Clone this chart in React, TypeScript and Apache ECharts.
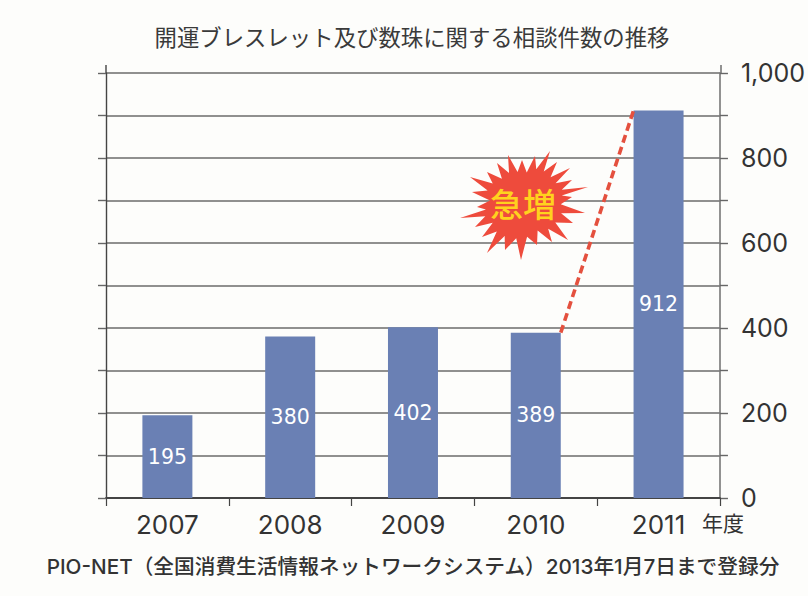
import React, { useEffect, useRef } from "react";
import * as echarts from "echarts";

const titleText = "開運ブレスレット及び数珠に関する相談件数の推移";
const footerText = "PIO-NET（全国消費生活情報ネットワークシステム）2013年1月7日まで登録分";
const unitText = "年度";
const burstText = "急増";
const categories = ["2007", "2008", "2009", "2010", "2011"];
const counts = [195, 380, 402, 389, 912];
const surgeFrom = [3, 389];
const surgeTo = [4, 912];

const BAR_W = 50;
const LATIN = "Inter, 'Liberation Sans', sans-serif";
const CJK = "'Noto Sans CJK JP', sans-serif";

// outer tips of the burst in page pixels
const burstTips: number[][] = [
  [508, 155], [522, 160], [535, 156], [550, 151], [557, 162], [570, 168], [572, 180],
  [588, 187], [572, 197], [585, 213], [573, 223], [568, 240], [552, 242], [537, 245],
  [521, 260], [505, 250], [487, 253], [482, 237], [475, 227], [460, 218], [477, 207],
  [472, 192], [470, 177], [487, 172], [497, 163],
];
const burstCx = 523;
const burstCy = 203;
const burstInner = 0.68;

function burstPoints(): number[][] {
  const out: number[][] = [];
  burstTips.forEach((tip, i) => {
    const next = burstTips[(i + 1) % burstTips.length];
    out.push(tip);
    const mx = (tip[0] + next[0]) / 2 - burstCx;
    const my = (tip[1] + next[1]) / 2 - burstCy;
    out.push([burstCx + mx * burstInner, burstCy + my * burstInner]);
  });
  return out;
}

export default function App() {
  const ref = useRef<HTMLDivElement>(null);
  useEffect(() => {
    const chart = echarts.init(ref.current!, undefined, { renderer: "svg" });
    const gridLine = { show: true, lineStyle: { color: "#6b6b6b", width: 1.6 } };
    const sideAxis = {
      type: "value" as const,
      min: 0,
      max: 1000,
      interval: 100,
      axisTick: { show: true, length: 8, lineStyle: { color: "#666", width: 1.4 } },
    };
    chart.setOption({
      animation: false,
      backgroundColor: "#fdfdfb",
      title: {
        text: titleText,
        left: 407,
        top: 18,
        textAlign: "center",
        textStyle: { fontFamily: CJK, fontSize: 22.4, fontWeight: 400, color: "#3a3a3a", lineHeight: 26 },
      },
      grid: { left: 106, right: 87, top: 73, bottom: 98 },
      xAxis: {
        type: "category",
        data: categories,
        axisLine: { lineStyle: { color: "#444", width: 1.8 } },
        axisTick: { show: true, length: 8, lineStyle: { color: "#444", width: 1.2 } },
        axisLabel: { fontFamily: LATIN, fontSize: 26, color: "#333", margin: 13 },
      },
      yAxis: [
        {
          ...sideAxis,
          position: "right",
          splitLine: gridLine,
          axisLine: { show: true, lineStyle: { color: "#777", width: 1.6 } },
          axisLabel: {
            fontFamily: LATIN,
            fontSize: 25,
            color: "#333",
            margin: 21,
            formatter: (v: number) => (v % 200 === 0 ? v.toLocaleString("en-US") : ""),
          },
        },
        {
          ...sideAxis,
          position: "left",
          splitLine: { show: false },
          axisLine: { show: true, lineStyle: { color: "#444", width: 1.4 } },
          axisLabel: { show: false },
        },
      ],
      series: [
        {
          type: "bar",
          data: counts,
          barWidth: BAR_W,
          itemStyle: { color: "#6a80b4" },
          z: 3,
          label: {
            show: true,
            position: "inside",
            fontFamily: "'DejaVu Sans', sans-serif",
            fontSize: 20.5,
            color: "#ffffff",
          },
        },
        {
          type: "custom",
          data: [[surgeFrom[0], surgeFrom[1], surgeTo[0], surgeTo[1]]],
          z: 4,
          silent: true,
          renderItem: (_p: any, api: any) => {
            const a = api.coord([api.value(0), api.value(1)]);
            const b = api.coord([api.value(2), api.value(3)]);
            return {
              type: "line",
              shape: { x1: a[0] + BAR_W / 2, y1: a[1], x2: b[0] - BAR_W / 2 + 1, y2: b[1] - 3 },
              style: { stroke: "#e4503e", lineWidth: 3.6, lineDash: [8, 4.5], fill: null },
            };
          },
        },
      ],
      graphic: [
        { type: "line", shape: { x1: 106, y1: 65, x2: 106, y2: 73 }, style: { stroke: "#444", lineWidth: 1.4 } },
        { type: "line", shape: { x1: 721, y1: 65, x2: 721, y2: 73 }, style: { stroke: "#777", lineWidth: 1.6 } },
        { type: "polygon", shape: { points: burstPoints() }, style: { fill: "#ee4b3c" }, z: 10 },
        {
          type: "text",
          x: burstCx,
          y: burstCy,
          z: 11,
          style: {
            text: burstText,
            fontFamily: CJK,
            fontSize: 33,
            fontWeight: 500,
            fill: "#ffd21e",
            align: "center",
            verticalAlign: "middle",
          },
        },
        {
          type: "text",
          x: 702,
          y: 522,
          style: { text: unitText, fontFamily: CJK, fontSize: 21, fill: "#333", verticalAlign: "middle" },
        },
        {
          type: "text",
          x: 413,
          y: 566,
          style: {
            text: footerText,
            fontFamily: "Inter, " + CJK,
            fontSize: 20.7,
            fontWeight: 500,
            fill: "#333",
            align: "center",
            verticalAlign: "middle",
          },
        },
      ],
    });
    return () => chart.dispose();
  }, []);
  return <div ref={ref} style={{ position: "absolute", left: 0, top: 0, width: 808, height: 596 }} />;
}
